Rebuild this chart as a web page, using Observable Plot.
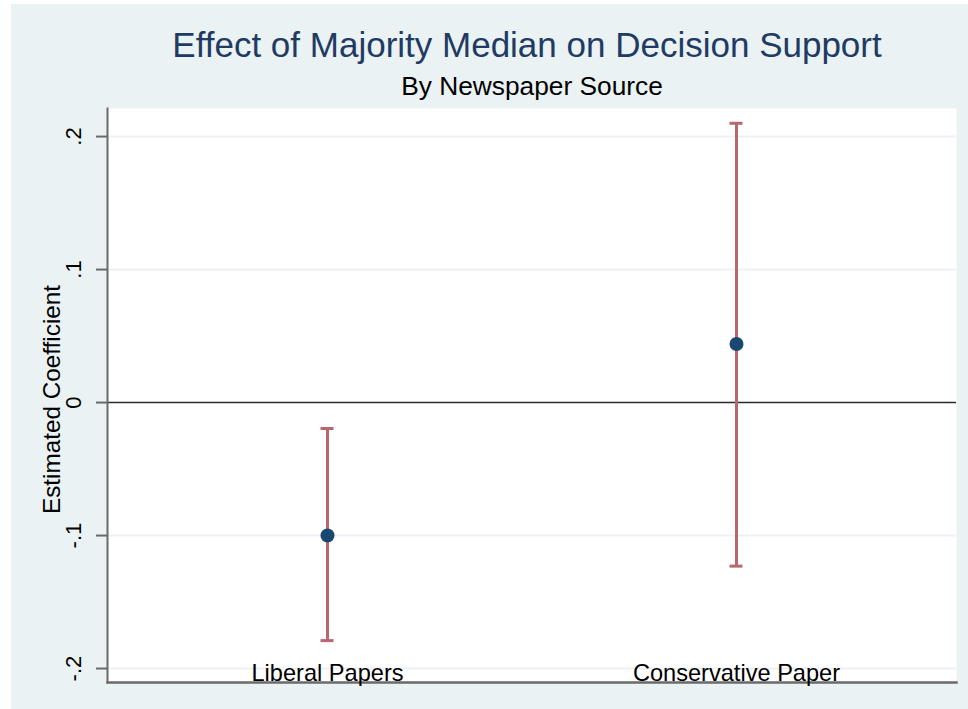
<!DOCTYPE html>
<html>
<head>
<meta charset="utf-8">
<script src="https://cdn.jsdelivr.net/npm/d3@7"></script>
<script src="https://cdn.jsdelivr.net/npm/@observablehq/plot@0.6"></script>
<style>
  html, body { margin: 0; padding: 0; background: #ffffff; }
  body { width: 968px; height: 709px; position: relative; overflow: hidden; font-family: "Liberation Sans", Arial, sans-serif; }
  #panel { position: absolute; left: 11px; top: 4px; width: 957px; height: 705px; background: #eaf2f3; }
  .title { position: absolute; left: 0; text-align: center; white-space: nowrap; }
  #t1 { top: 24px; width: 1054px; font-size: 35px; color: #1f3b63; line-height: 42px; }
  #t2 { top: 71px; width: 1064px; font-size: 26.3px; color: #000; line-height: 31px; }
  #chart { position: absolute; left: 0; top: 100px; }
</style>
</head>
<body>
<div id="panel"></div>
<div class="title" id="t1">Effect of Majority Median on Decision Support</div>
<div class="title" id="t2">By Newspaper Source</div>
<div id="chart"></div>
<script>
const categories = ["Liberal Papers", "Conservative Paper"];
const estimates = [-0.100, 0.044];
const ciLow = [-0.179, -0.123];
const ciHigh = [-0.0195, 0.210];
const yTicks = [-0.2, -0.1, 0, 0.1, 0.2];
const yTickLabels = ["-.2", "-.1", "0", ".1", ".2"];
const gridTicks = [-0.2, -0.1, 0.1, 0.2];
const yDomain = [-0.2105, 0.2211];
const yLabel = "Estimated Coefficient";

const data = categories.map((c, i) => ({cat: c, est: estimates[i], lo: ciLow[i], hi: ciHigh[i]}));

const plot = Plot.plot({
  width: 968,
  height: 609,
  marginLeft: 107,
  marginRight: 12,
  marginTop: 8,
  marginBottom: 27,
  style: {background: "transparent", fontFamily: "'Liberation Sans', Arial, sans-serif"},
  x: {type: "point", domain: categories, padding: 0.537, axis: null},
  y: {domain: yDomain, axis: null},
  marks: [
    Plot.frame({fill: "white", stroke: null}),
    Plot.ruleY(gridTicks, {y: d => d, stroke: "#edf1f6", strokeWidth: 2}),
    Plot.ruleY([0], {stroke: "#2b2b2b", strokeWidth: 1.6}),
    Plot.frame({anchor: "left", stroke: "#6a6a6a", strokeWidth: 2}),
    Plot.frame({anchor: "bottom", stroke: "#6a6a6a", strokeWidth: 2.5}),
    Plot.axisY({ticks: yTicks, tickSize: 11, tickFormat: () => "", stroke: "#6a6a6a", strokeWidth: 2, tickPadding: 0}),
    Plot.text(yTicks, {y: d => d, text: (d, i) => yTickLabels[i], frameAnchor: "left", dx: -34, rotate: -90, fontSize: 22, fill: "#000", textAnchor: "middle", lineAnchor: "middle"}),
    Plot.text([yLabel], {text: d => d, frameAnchor: "left", dx: -55, dy: 4, rotate: -90, fontSize: 24.3, fill: "#000", textAnchor: "middle", lineAnchor: "middle"}),
    Plot.text(data, {x: "cat", text: "cat", frameAnchor: "bottom", dy: -2, lineAnchor: "bottom", fontSize: 23.6, fill: "#000"}),
    Plot.ruleX(data, {x: "cat", y1: "lo", y2: "hi", stroke: "#b8676f", strokeWidth: 3}),
    Plot.ruleY(data, {y: "lo", x1: "cat", x2: "cat", insetLeft: -6.5, insetRight: -6.5, stroke: "#b8676f", strokeWidth: 3}),
    Plot.ruleY(data, {y: "hi", x1: "cat", x2: "cat", insetLeft: -6.5, insetRight: -6.5, stroke: "#b8676f", strokeWidth: 3}),
    Plot.dot(data, {x: "cat", y: "est", r: 7, fill: "#1a476f", stroke: null})
  ]
});
document.getElementById("chart").appendChild(plot);
</script>
</body>
</html>
